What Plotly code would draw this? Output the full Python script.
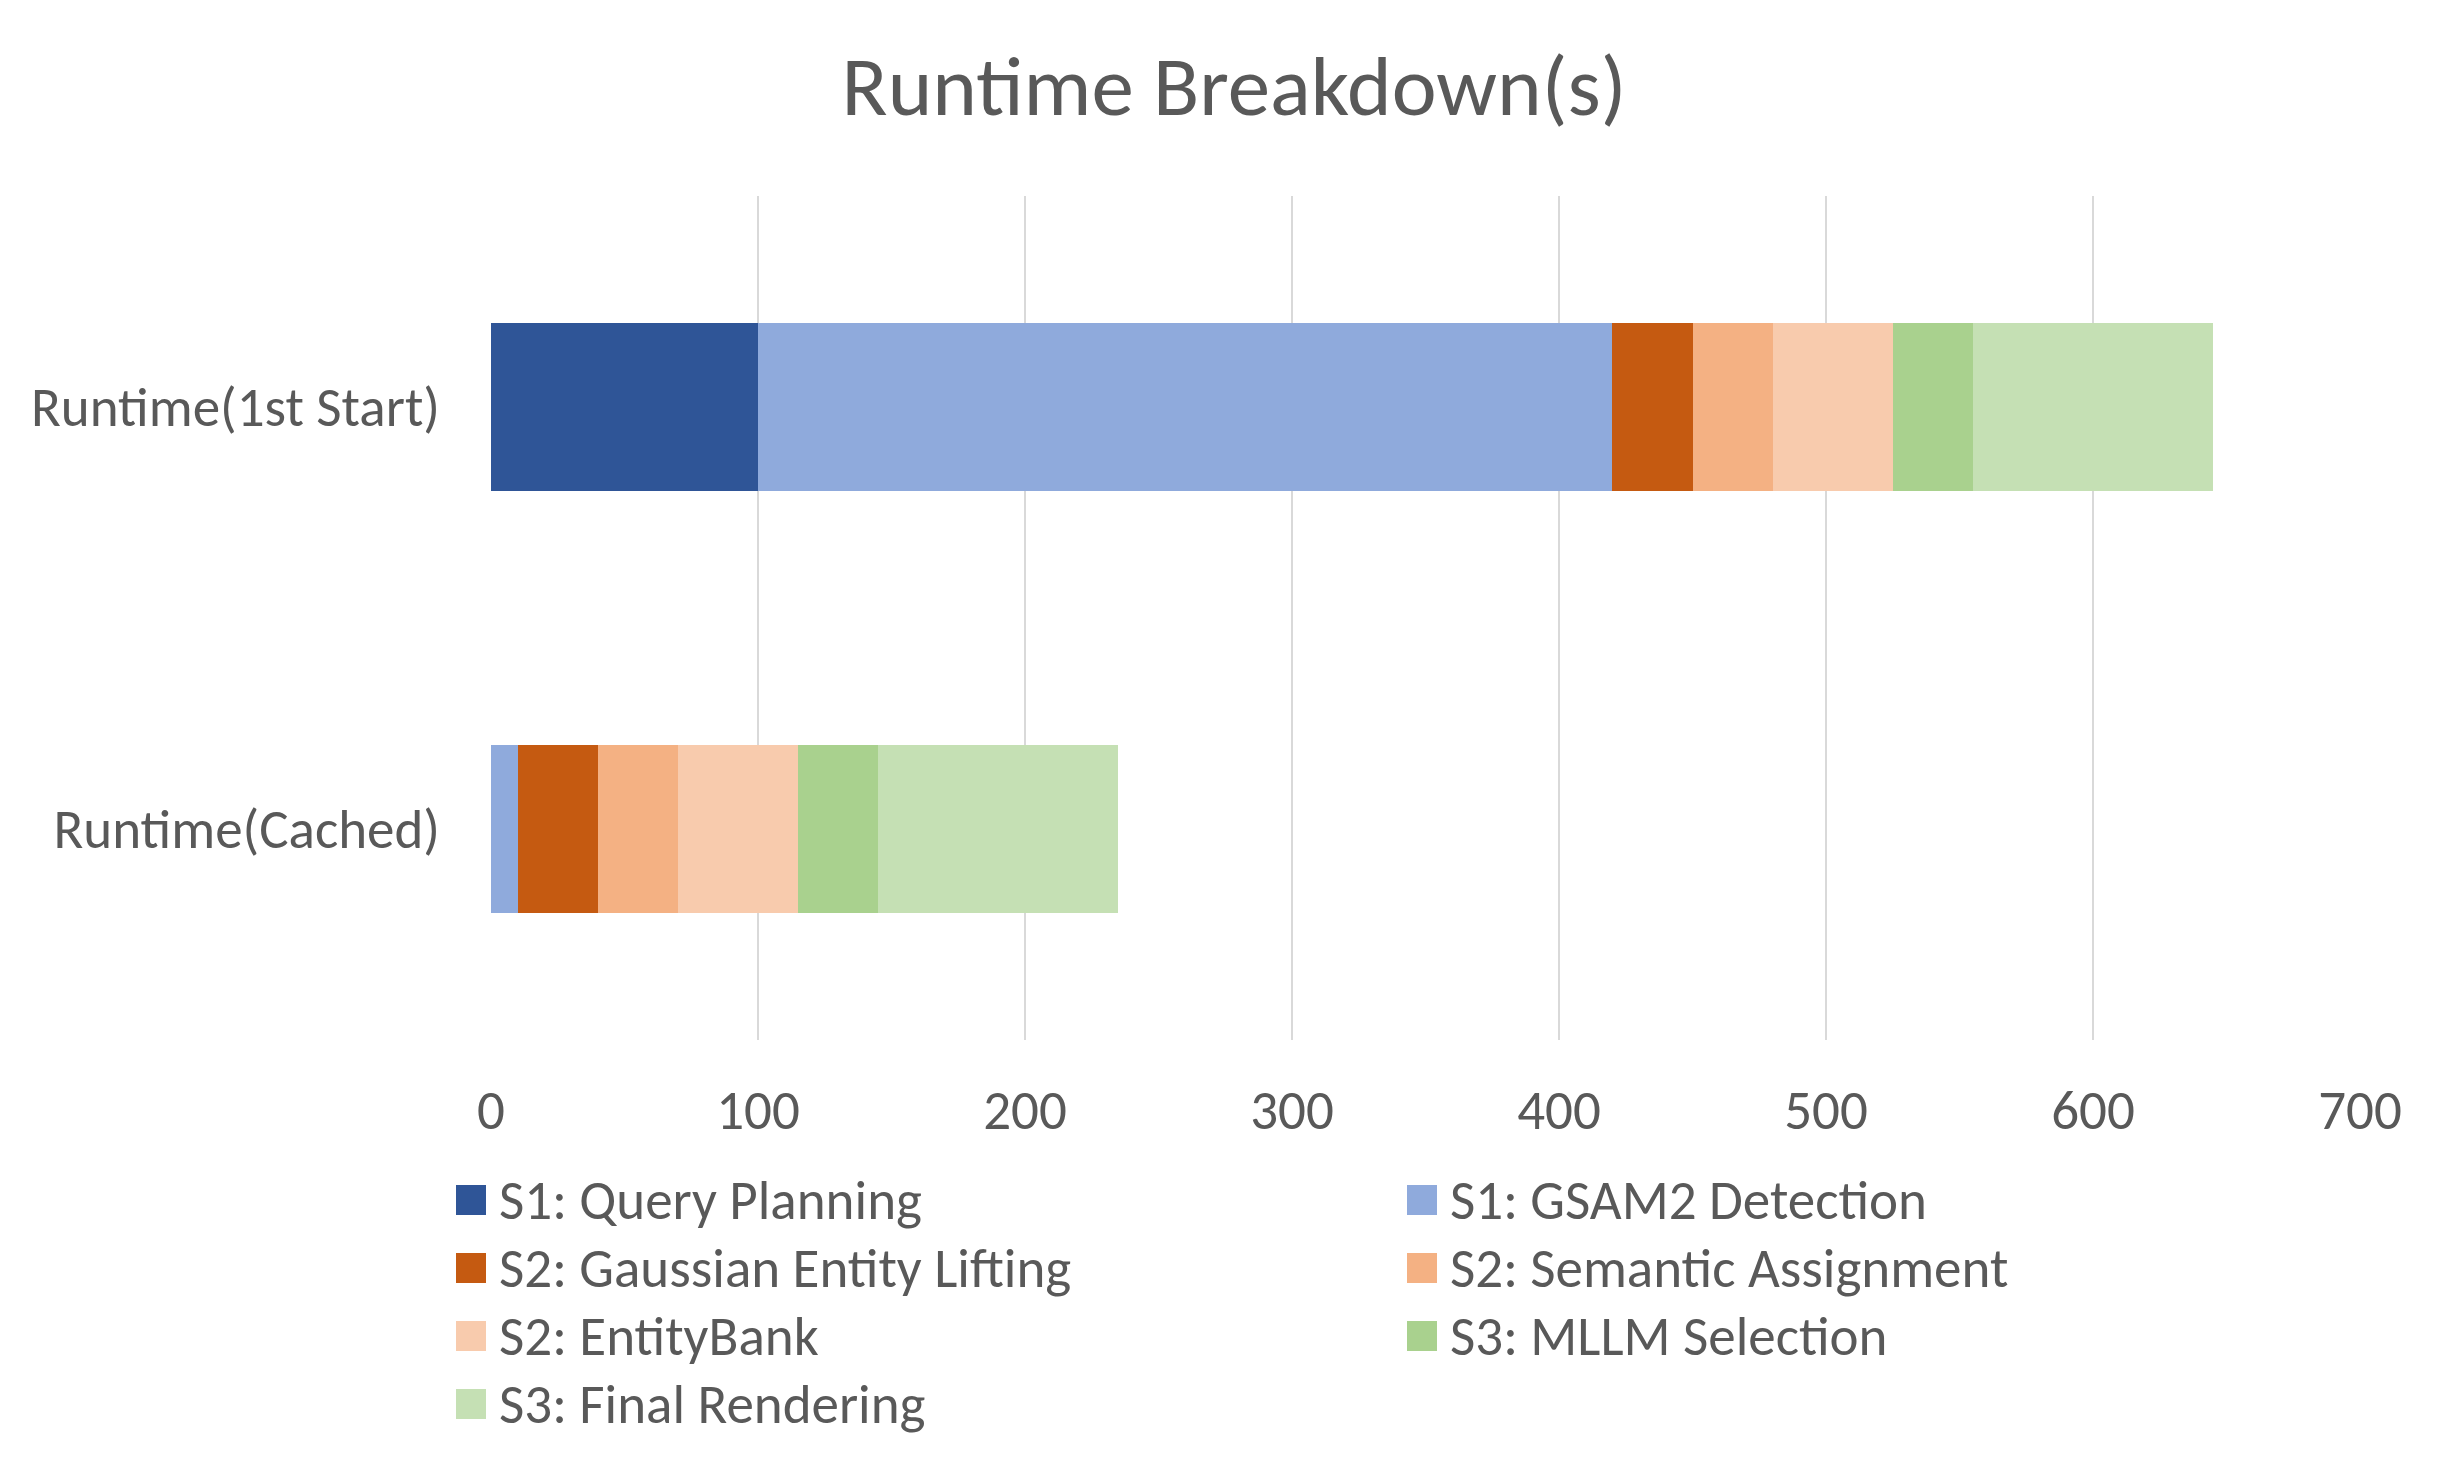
import plotly.graph_objects as go

# ---- data ----
categories = ["Runtime(1st Start)", "Runtime(Cached)"]
series_names = [
    "S1: Query Planning",
    "S1: GSAM2 Detection",
    "S2: Gaussian Entity Lifting",
    "S2: Semantic Assignment",
    "S2: EntityBank",
    "S3: MLLM Selection",
    "S3: Final Rendering",
]
first_start = [100, 320, 30, 30, 45, 30, 90]
cached = [0, 10, 30, 30, 45, 30, 90]
colors = ["#2F5597", "#8FAADC", "#C55A11", "#F4B183", "#F8CBAD", "#A9D18E", "#C5E0B4"]
x_ticks = [0, 100, 200, 300, 400, 500, 600, 700]
title_text = "Runtime Breakdown(s)"

FONT = "Carlito, Calibri, 'Liberation Sans Narrow', 'Open Sans', sans-serif"
TXT = "#595959"

W, H = 2452, 1474
L, R, T, B = 483, 100, 188, 442
PW, PH = W - L - R, H - T - B

def px(x):
    return (x - L) / PW

def py(y):
    return (H - B - y) / PH

fig = go.Figure()
for i, name in enumerate(series_names):
    fig.add_trace(go.Bar(
        y=categories,
        x=[first_start[i], cached[i]],
        name=name,
        orientation="h",
        marker=dict(color=colors[i], line=dict(width=0)),
        showlegend=False,
        hovertemplate="%{y}<br>" + name + ": %{x}<extra></extra>",
    ))

# manual two-column legend
col_x = [448, 1399]
row_y = [1192, 1260, 1328, 1396]
shapes = []
annotations = []
for i, name in enumerate(series_names):
    cx = col_x[i % 2]
    cy = row_y[i // 2]
    shapes.append(dict(type="rect", xref="paper", yref="paper",
                       x0=px(cx), x1=px(cx + 30), y0=py(cy + 15), y1=py(cy - 15),
                       fillcolor=colors[i], line=dict(width=0)))
    annotations.append(dict(xref="paper", yref="paper", x=px(cx + 41), y=py(cy),
                            xanchor="left", yanchor="middle", showarrow=False,
                            text=name, font=dict(family=FONT, size=55, color=TXT)))

fig.update_layout(
    width=W, height=H,
    margin=dict(l=L, r=R, t=T, b=B, pad=0),
    paper_bgcolor="white", plot_bgcolor="white",
    barmode="stack", bargap=0.6,
    title=dict(text=title_text, x=0.5, xref="container", xanchor="center",
               y=1 - 77 / H, yanchor="middle",
               font=dict(family=FONT, size=85, color=TXT)),
    xaxis=dict(range=[0, 700], tickvals=x_ticks, showgrid=True, gridcolor="#D9D9D9",
               gridwidth=2, zeroline=False, showline=False, ticks="",
               ticklabelstandoff=33,
               tickfont=dict(family=FONT, size=55, color=TXT)),
    yaxis=dict(autorange="reversed", showgrid=False, zeroline=False, showline=False,
               ticks="", ticklabelstandoff=50,
               tickfont=dict(family=FONT, size=55, color=TXT)),
    shapes=shapes,
    annotations=annotations,
    showlegend=False,
)

fig.write_html("out.html")
